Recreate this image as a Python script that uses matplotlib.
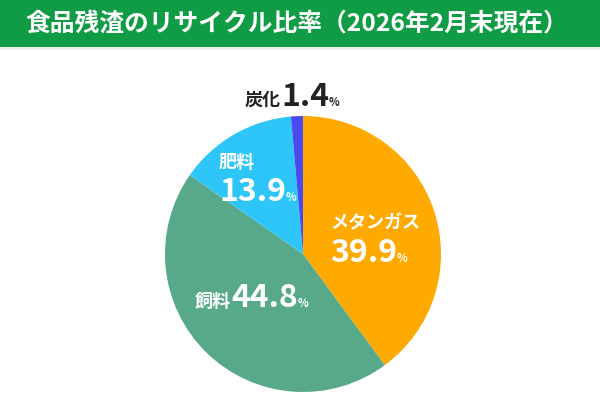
import matplotlib
matplotlib.use('Agg')
import matplotlib.pyplot as plt
from matplotlib.patches import Rectangle

plt.rcParams['font.family'] = ['Noto Sans CJK JP', 'DejaVu Sans']

# データ
categories = ['メタンガス', '飼料', '肥料', '炭化']
values = [39.9, 44.8, 13.9, 1.4]
colors = ['#FFAA00', '#58A98A', '#2EC6F9', '#4A4AF0']
title = '食品残渣のリサイクル比率（2026年2月末現在）'

W, H = 600, 411
fig = plt.figure(figsize=(W / 100, H / 100), dpi=100)
fig.patch.set_facecolor('white')

# タイトル帯
fig.patches.append(Rectangle((0, 1 - 47 / H), 1, 47 / H, transform=fig.transFigure,
                             facecolor='#0F9C44', edgecolor='none'))
fig.patches.append(Rectangle((0, 1 - 50 / H), 1, 3 / H, transform=fig.transFigure,
                             facecolor='#EDEDED', edgecolor='none'))
fig.text(297 / W, 1 - 24 / H, title, color='white', fontsize=17.8, fontweight='bold',
         ha='center', va='center')

# 円グラフ
cx, cy, r = 303, 254, 138
ax = fig.add_axes([(cx - r) / W, (H - cy - r) / H, 2 * r / W, 2 * r / H])
ax.pie(values, colors=colors, startangle=90, counterclock=False, radius=1,
       wedgeprops=dict(linewidth=0))
ax.set_xlim(-1, 1)
ax.set_ylim(-1, 1)
ax.axis('off')

renderer = fig.canvas.get_renderer()


def pieces(x, y, parts, color):
    # parts: (文字列, サイズ) を左から順に並べる
    for s, size in parts:
        t = fig.text(x / W, 1 - y / H, s, color=color, fontsize=size,
                     fontweight='bold', ha='left', va='baseline')
        x += t.get_window_extent(renderer).width


def pct(v):
    return f'{v:.1f}'


# ラベル
pieces(245, 106, [(categories[3], 13), (pct(values[3]), 23), ('%', 8)], '#222222')
pieces(219, 168, [(categories[2], 13)], 'white')
pieces(219, 201, [(pct(values[2]), 23), ('%', 8)], 'white')
pieces(330, 228, [(categories[0], 13)], 'white')
pieces(330, 262, [(pct(values[0]), 23), ('%', 8)], 'white')
pieces(195, 307, [(categories[1], 13), (pct(values[1]), 23), ('%', 8)], 'white')

fig.savefig('out.png', dpi=100, facecolor=fig.get_facecolor())
